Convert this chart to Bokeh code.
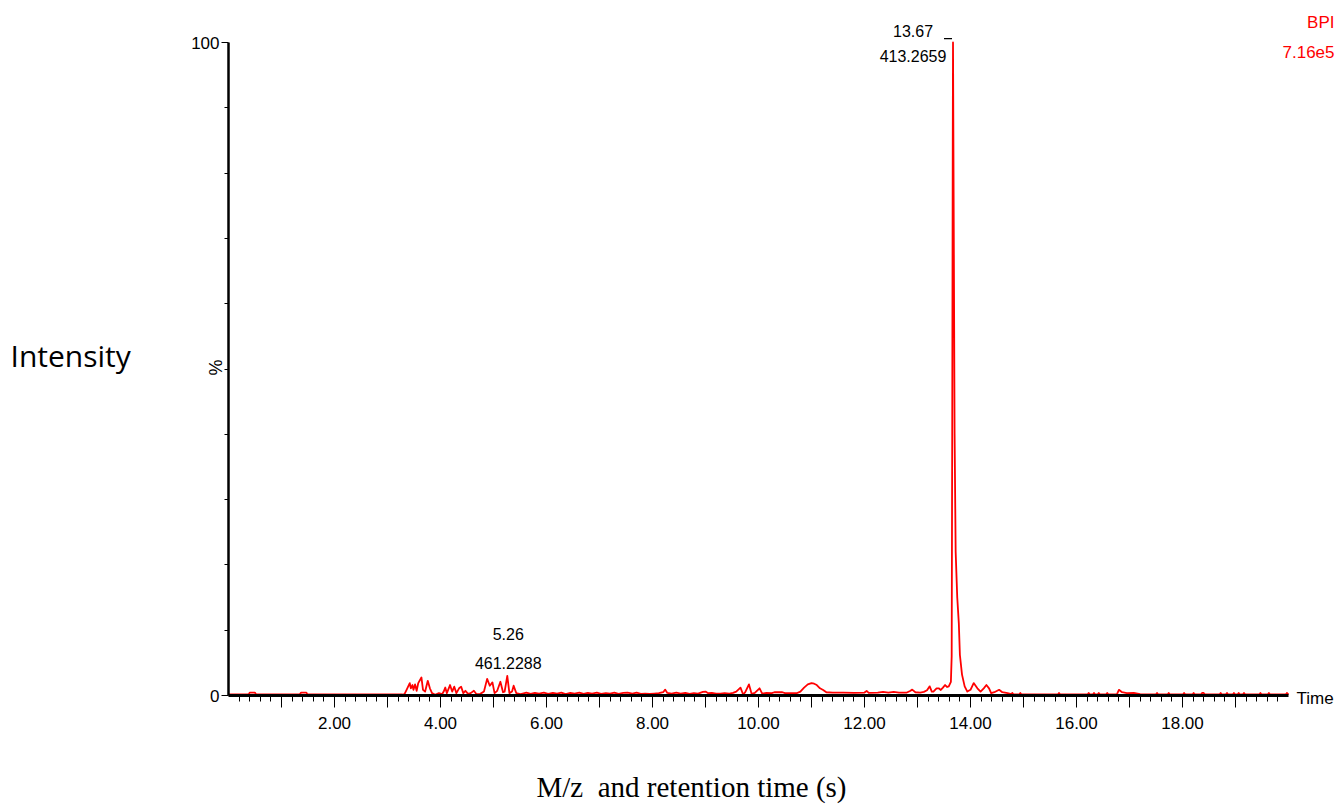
from bokeh.plotting import figure
from bokeh.models import Range1d, FixedTicker, Label
from bokeh.embed import file_html
from bokeh.resources import INLINE

# Base peak intensity chromatogram (retention time in min, % of max)
rt = [
    0.00, 0.38, 0.40, 0.50, 0.52, 1.34, 1.37, 1.47, 1.49, 2.30, 3.28,
    3.32, 3.36, 3.42, 3.44, 3.47, 3.49, 3.52, 3.55, 3.58, 3.64, 3.67, 3.71,
    3.76, 3.80, 3.84, 3.90, 3.97, 4.03, 4.06, 4.09, 4.12, 4.18, 4.22, 4.26,
    4.30, 4.35, 4.39, 4.43, 4.47, 4.52, 4.57, 4.63, 4.68, 4.75, 4.82, 4.88,
    4.93, 4.98, 5.02, 5.07, 5.13, 5.18, 5.21, 5.26, 5.30, 5.35, 5.38, 5.43,
    5.51,
    5.55, 5.62, 5.70, 5.78, 5.86, 5.95, 6.03, 6.12, 6.20, 6.28, 6.36, 6.45,
    6.53, 6.62, 6.70, 6.78, 6.86, 6.95, 7.03, 7.12, 7.20, 7.28, 7.36, 7.45,
    7.53, 7.62, 7.70, 7.78, 7.86, 7.95, 8.03, 8.12, 8.20, 8.24, 8.28, 8.36,
    8.45, 8.53, 8.62, 8.70, 8.78, 8.86, 8.95, 9.00, 9.05, 9.12, 9.20, 9.28,
    9.36, 9.45, 9.52, 9.58, 9.66, 9.71, 9.75, 9.82, 9.87, 9.93, 10.02, 10.07,
    10.15, 10.25, 10.30, 10.45, 10.50, 10.72, 10.79, 10.86, 10.93, 11.00,
    11.05, 11.10, 11.16, 11.22, 11.28, 11.40, 11.60, 11.80, 12.00, 12.04,
    12.08, 12.25, 12.35, 12.45, 12.55, 12.65, 12.80, 12.86, 12.90, 12.96,
    13.05, 13.12, 13.18, 13.23, 13.27, 13.30, 13.36, 13.40, 13.44, 13.48,
    13.52, 13.56, 13.59, 13.63,
    13.645, 13.655, 13.665, 13.67, 13.685, 13.70, 13.72, 13.75, 13.78, 13.80,
    13.84, 13.89, 13.94,
    14.00, 14.06, 14.13, 14.19, 14.25, 14.30, 14.35, 14.39, 14.45, 14.54,
    14.60, 14.70, 14.77,
    14.79, 14.81, 14.92, 14.94, 14.96, 15.65, 15.67, 15.69, 16.21, 16.23,
    16.25, 16.31, 16.33, 16.35, 16.40, 16.42, 16.44, 16.56, 16.58, 16.60,
    16.76, 16.80, 16.86, 16.95, 17.08, 17.20, 17.50, 17.52, 17.54, 17.72,
    17.74, 17.76, 18.01, 18.03, 18.05, 18.19, 18.21, 18.23, 18.35, 18.37,
    18.40, 18.42, 18.70, 18.72, 18.74, 18.82, 18.84, 18.86, 18.95, 18.97,
    18.99, 19.04, 19.06, 19.08, 19.14, 19.16, 19.18, 19.45, 19.47, 19.49,
    19.61, 19.63, 19.65, 19.95, 19.97, 20.00,
]
bpi = [
    0.15, 0.15, 0.45, 0.45, 0.15, 0.15, 0.45, 0.45, 0.15, 0.15, 0.15,
    0.20, 0.87, 1.90, 1.10, 1.60, 0.87, 1.70, 0.72, 1.90, 2.76, 0.87, 0.60,
    2.25, 1.10, 0.36, 0.10, 0.36, 0.20, 0.60, 1.23, 0.36, 1.60, 0.60, 1.35,
    0.36, 1.10, 1.35, 0.36, 0.72, 0.25, 0.36, 0.72, 0.20, 0.25, 0.60, 2.55,
    1.50, 2.00, 0.36, 0.72, 2.10, 0.50, 0.60, 3.00, 0.36, 0.60, 1.50, 0.36,
    0.20,
    0.30, 0.45, 0.25, 0.40, 0.30, 0.45, 0.25, 0.40, 0.30, 0.45, 0.20, 0.40,
    0.30, 0.45, 0.25, 0.40, 0.30, 0.45, 0.25, 0.35, 0.30, 0.45, 0.25, 0.40,
    0.45, 0.30, 0.45, 0.25, 0.30, 0.25, 0.30, 0.35, 0.50, 0.90, 0.40, 0.30,
    0.45, 0.30, 0.40, 0.25, 0.35, 0.30, 0.55, 0.60, 0.35, 0.40, 0.30, 0.30,
    0.35, 0.30, 0.40, 0.60, 1.20, 0.15, 0.50, 1.70, 0.25, 0.40, 1.10, 0.30,
    0.40, 0.35, 0.50, 0.50, 0.35, 0.35, 0.60, 1.20, 1.70, 1.90,
    1.80, 1.60, 1.10, 0.85, 0.50, 0.45, 0.45, 0.40, 0.45, 0.70,
    0.40, 0.45, 0.55, 0.45, 0.55, 0.45, 0.45, 0.70, 0.90, 0.50,
    0.45, 0.55, 0.80, 1.40, 0.60, 0.60, 1.10, 1.10, 0.85, 1.20,
    1.60, 1.30, 1.40, 2.10,
    6.0, 40.0, 85.0, 100.0, 70.0, 40.0, 22.0, 15.0, 11.0, 6.2,
    3.2, 1.4, 0.6,
    0.87, 1.90, 1.10, 0.60, 1.10, 1.60, 1.10, 0.36, 0.50, 0.87,
    0.50, 0.36, 0.20,
    0.40, 0.15, 0.15, 0.40, 0.15, 0.15, 0.40, 0.15, 0.15, 0.40,
    0.15, 0.15, 0.40, 0.15, 0.15, 0.40, 0.15, 0.15, 0.40, 0.15,
    0.15, 0.87, 0.50, 0.36, 0.40, 0.20, 0.15, 0.40, 0.15, 0.15,
    0.40, 0.15, 0.15, 0.40, 0.15, 0.15, 0.40, 0.15, 0.15, 0.40,
    0.40, 0.15, 0.15, 0.40, 0.15, 0.15, 0.40, 0.15, 0.15, 0.40,
    0.15, 0.15, 0.40, 0.15, 0.15, 0.40, 0.15, 0.15, 0.40, 0.15,
    0.15, 0.40, 0.15, 0.15, 0.40, 0.15,
]

# Annotated peaks: retention time and base-peak m/z
peak_rt = [13.67, 5.26]
peak_mz = ["413.2659", "461.2288"]

# Axis ticks
x_ticks = list(range(1, 20))
x_tick_labels = {t: ("" if t % 2 else f"{t:.2f}") for t in x_ticks}
x_minor = [round(i * 0.2, 1) for i in range(1, 100) if i % 5]
y_ticks = [0, 100]
y_minor = [10, 20, 30, 40, 50, 60, 70, 80, 90]

trace_name = "BPI"
trace_max = "7.16e5"

# Page geometry (pixels)
W, H = 1335, 806
LEFT, BOTTOM = 228, 695          # origin of the axes, from the top-left corner
XS, YS = 53.0, 6.53              # px per minute, px per percent

SANS = "Liberation Sans"


def sx(px):
    return (px - LEFT) / XS


def sy(py):
    return (BOTTOM - py) / YS


# the frame fills the whole page; axes are pinned at the origin
p = figure(width=W, height=H, output_backend="svg", toolbar_location=None,
           x_range=Range1d(sx(0), sx(W)), y_range=Range1d(sy(H), sy(0)),
           min_border=0, min_border_left=0, min_border_right=0,
           min_border_top=0, min_border_bottom=0, title=None)
p.outline_line_color = None
p.grid.visible = False
p.background_fill_color = "white"
p.border_fill_color = "white"

# chromatogram trace
p.line(rt, bpi, line_color="#ff0000", line_width=1.8, line_join="round")

# x axis
xa = p.xaxis[0]
xa.fixed_location = 0
xa.ticker = FixedTicker(ticks=x_ticks, minor_ticks=x_minor)
xa.major_label_overrides = x_tick_labels
xa.bounds = (0, 20)
xa.axis_line_width = 3
xa.axis_line_color = "black"
xa.major_tick_in = 0
xa.major_tick_out = 12
xa.minor_tick_in = 0
xa.minor_tick_out = 6
xa.major_tick_line_color = "black"
xa.minor_tick_line_color = "black"
xa.major_label_standoff = 9
xa.major_label_text_font = SANS
xa.major_label_text_font_size = "17px"
xa.major_label_text_color = "black"

# y axis
ya = p.yaxis[0]
ya.fixed_location = 0
ya.ticker = FixedTicker(ticks=y_ticks, minor_ticks=y_minor)
ya.bounds = (0, 100)
ya.axis_line_width = 2.5
ya.axis_line_color = "black"
ya.major_tick_in = 0
ya.major_tick_out = 7
ya.minor_tick_in = 0
ya.minor_tick_out = 4
ya.major_tick_line_color = "black"
ya.minor_tick_line_color = "black"
ya.major_label_standoff = 2
ya.major_label_text_font = SANS
ya.major_label_text_font_size = "17px"
ya.major_label_text_color = "black"

# peak annotations
for t, mz in zip(peak_rt, peak_mz):
    h = bpi[rt.index(t)]
    if h >= 50:
        dx, dy1, dy2 = -40, 12, -13
        p.segment(x0=[t - 9 / XS], y0=[h + 0.6], x1=[t - 1 / XS], y1=[h + 0.6],
                  line_color="black", line_width=1.2)
    else:
        dx, dy1, dy2 = 1, 42, 13
    p.add_layout(Label(x=t, y=h, x_offset=dx, y_offset=dy1, text=f"{t:.2f}",
                       text_align="center", text_baseline="middle",
                       text_font=SANS, text_font_size="16px", text_color="black"))
    p.add_layout(Label(x=t, y=h, x_offset=dx, y_offset=dy2, text=mz,
                       text_align="center", text_baseline="middle",
                       text_font=SANS, text_font_size="16px", text_color="black"))

# trace name and absolute intensity
p.add_layout(Label(x=sx(1334), y=sy(22), text=trace_name, text_align="right",
                   text_baseline="middle", text_font=SANS,
                   text_font_size="17px", text_color="#ff0000"))
p.add_layout(Label(x=sx(1334), y=sy(51), text=trace_max, text_align="right",
                   text_baseline="middle", text_font=SANS,
                   text_font_size="17px", text_color="#ff0000"))

# axis captions
p.add_layout(Label(x=20, y=0, x_offset=8, y_offset=-3, text="Time",
                   text_align="left", text_baseline="middle", text_font=SANS,
                   text_font_size="17px", text_color="black"))
p.add_layout(Label(x=sx(215), y=sy(367), text="%", angle=1.5708,
                   text_align="center", text_baseline="middle",
                   text_font=SANS, text_font_size="18px",
                   text_color="black"))
p.add_layout(Label(x=sx(10), y=sy(355), text="Intensity", text_align="left",
                   text_baseline="middle", text_font="Open Sans",
                   text_font_size="30px", text_color="black"))
p.add_layout(Label(x=sx(691), y=sy(786), text="M/z\u00a0 and retention time (s)",
                   text_align="center", text_baseline="middle",
                   text_font="Liberation Serif", text_font_size="29px",
                   text_color="black"))

open("out.html", "w").write(file_html(p, INLINE))
